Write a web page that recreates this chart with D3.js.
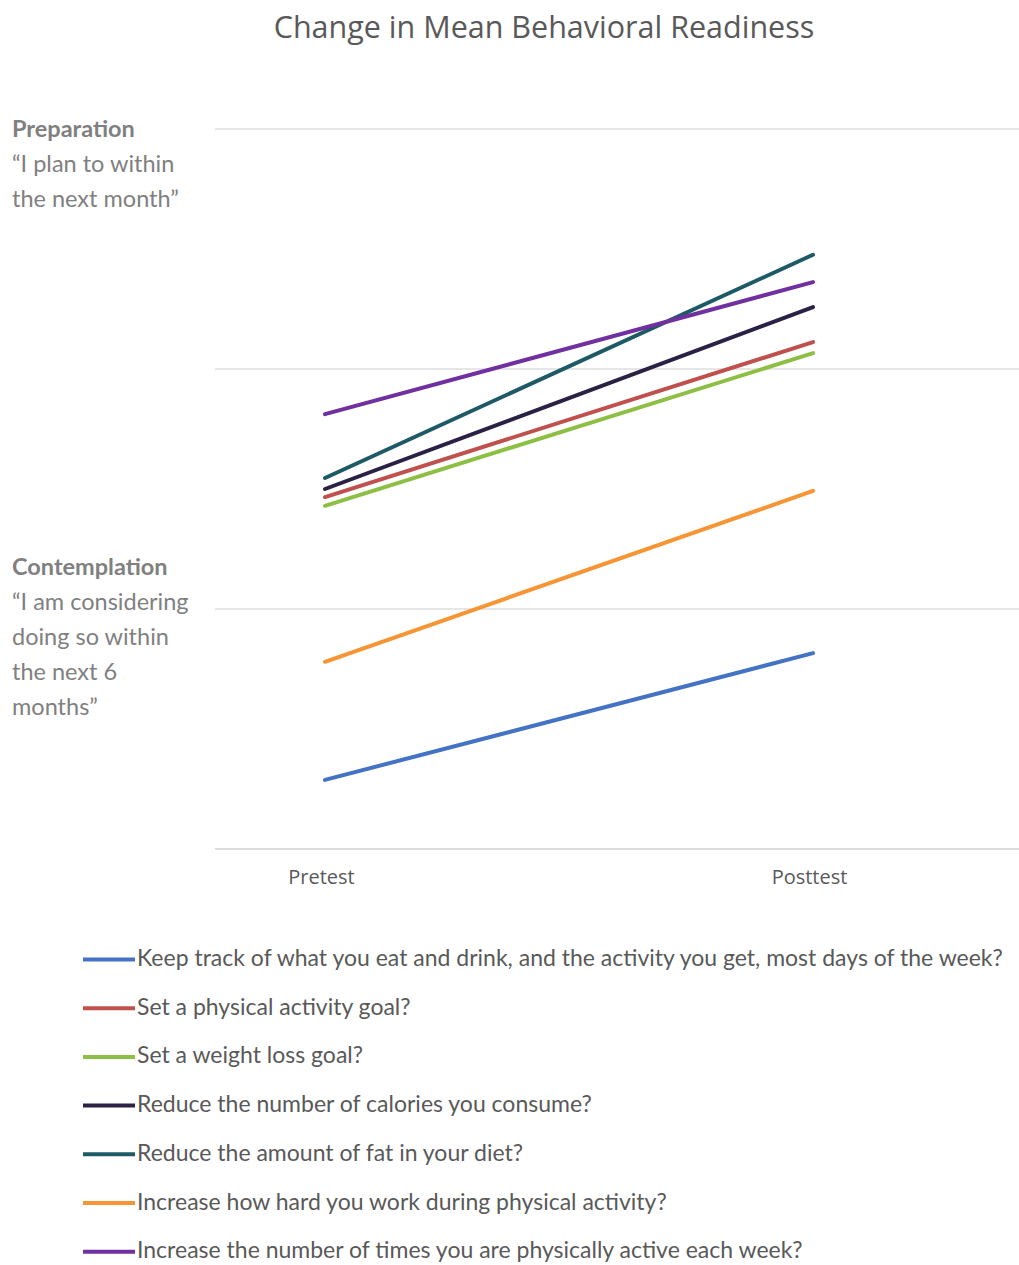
<!DOCTYPE html>
<html>
<head>
<meta charset="utf-8">
<script src="https://cdn.jsdelivr.net/npm/d3@7"></script>
<style>
  html, body { margin: 0; padding: 0; background: #fff; }
  svg { display: block; }
</style>
</head>
<body>
<div id="chart"></div>
<script>
const title = "Change in Mean Behavioral Readiness";
const categories = ["Pretest", "Posttest"];
const seriesNames = [
  "Keep track of what you eat and drink, and the activity you get, most days of the week?",
  "Set a physical activity goal?",
  "Set a weight loss goal?",
  "Reduce the number of calories you consume?",
  "Reduce the amount of fat in your diet?",
  "Increase how hard you work during physical activity?",
  "Increase the number of times you are physically active each week?"
];
const seriesColors = ["#4472C4", "#C0504D", "#8DBF44", "#2B2145", "#1D5A66", "#F79433", "#7030A0"];
const keepTrack   = [1.644, 1.908];
const paGoal      = [2.233, 2.556];
const weightGoal  = [2.215, 2.533];
const calories    = [2.250, 2.629];
const fat         = [2.273, 2.738];
const howHard     = [1.890, 2.246];
const timesActive = [2.406, 2.681];
const seriesValues = [keepTrack, paGoal, weightGoal, calories, fat, howHard, timesActive];
const yTicks = [1.5, 2, 2.5, 3];
const prepHead = "Preparation";
const prepLines = ["\u201CI plan to within", "the next month\u201D"];
const contHead = "Contemplation";
const contLines = ["\u201CI am considering", "doing so within", "the next 6", "months\u201D"];

const W = 1019, H = 1265;
const svg = d3.select("#chart").append("svg").attr("width", W).attr("height", H);

const x = d3.scalePoint().domain(categories).range([325, 813]);
const y = d3.scaleLinear().domain([1.5, 3]).range([849, 129]);
const gridX0 = 215, gridX1 = 1019;

// Title
svg.append("text")
  .attr("x", 544).attr("y", 38)
  .attr("text-anchor", "middle")
  .attr("font-family", "'Open Sans', sans-serif")
  .attr("font-size", 30.5)
  .attr("fill", "#595959")
  .text(title);

// Gridlines
svg.append("g").selectAll("line").data(yTicks).join("line")
  .attr("x1", gridX0).attr("x2", gridX1)
  .attr("y1", d => y(d)).attr("y2", d => y(d))
  .attr("stroke", d => d === 1.5 ? "#d0d0d0" : "#dedede")
  .attr("stroke-width", 1.5);

// X axis labels
const xAxis = d3.axisBottom(x).tickSize(0).tickPadding(0);
const gx = svg.append("g").attr("transform", `translate(-4,${y(1.5) + 21})`).call(xAxis);
gx.select(".domain").remove();
gx.selectAll("text")
  .attr("font-family", "'Open Sans', sans-serif")
  .attr("font-size", 20)
  .attr("fill", "#595959");

// Stage labels
const sg = svg.append("g").attr("font-family", "Lato, sans-serif").attr("font-size", 23.5).attr("fill", "#808080");
sg.append("text").attr("x", 12).attr("y", y(3) + 8).attr("font-weight", "bold").text(prepHead);
sg.append("text").selectAll("tspan").data(prepLines).join("tspan")
  .attr("x", 12).attr("y", (d, i) => y(3) + 43 + i * 35).text(d => d);
sg.append("text").attr("x", 12).attr("y", y(2) - 34).attr("font-weight", "bold").text(contHead);
sg.append("text").selectAll("tspan").data(contLines).join("tspan")
  .attr("x", 12).attr("y", (d, i) => y(2) + 1 + i * 35).text(d => d);

// Lines
const line = d3.line().x((d, i) => x(categories[i])).y(d => y(d));
svg.append("g").selectAll("path").data(seriesValues).join("path")
  .attr("d", d => line(d))
  .attr("fill", "none")
  .attr("stroke", (d, i) => seriesColors[i])
  .attr("stroke-width", 4)
  .attr("stroke-linecap", "round");

// Legend
const lg = svg.append("g");
const rows = lg.selectAll("g").data(seriesNames).join("g")
  .attr("transform", (d, i) => `translate(83,${959.5 + i * 48.7})`);
rows.append("line").attr("x1", 0).attr("x2", 52).attr("y1", 0).attr("y2", 0)
  .attr("stroke", (d, i) => seriesColors[i]).attr("stroke-width", 4);
rows.append("text").attr("x", 54).attr("y", 6.5)
  .attr("font-family", "Lato, sans-serif").attr("font-size", 23)
  .attr("fill", "#595959").text(d => d);
</script>
</body>
</html>
